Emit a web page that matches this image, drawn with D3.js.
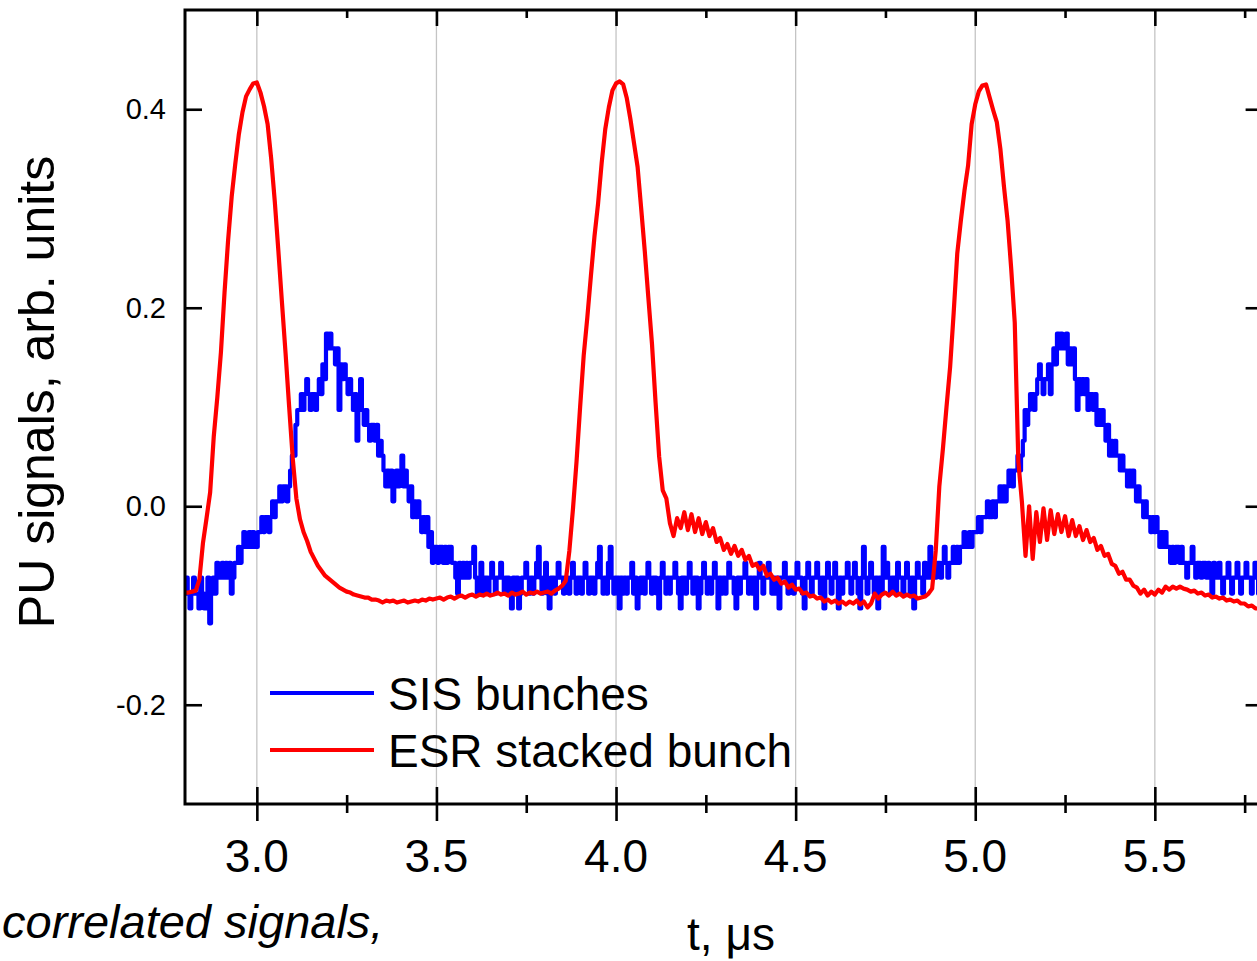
<!DOCTYPE html>
<meta charset="utf-8">
<style>
  body { margin: 0; background: #fff; }
  text { font-family: "Liberation Sans", Arial, Helvetica, sans-serif; fill: #000; }
  .tick-label { font-size: 46px; text-anchor: middle; }
  .ytick-label { font-size: 29px; text-anchor: end; }
  .title { font-size: 46px; }
  .legend { font-size: 46px; }
</style>
<svg width="1257" height="961"></svg>
<script src="https://cdn.jsdelivr.net/npm/d3@7"></script>
<script>

////////////////////
// DATA

// time grids (µs) of the two traces
const sisStart = 2.8, sisStep = 0.005;
const esrStart = 2.8, esrStep = 0.01;

// SIS bunches (blue), one row = 0.1 µs
const sisValues = [
  -0.088,-0.072,-0.088,-0.103,-0.088,-0.072,-0.088,-0.088,-0.103,-0.072,-0.088,-0.103,-0.088,-0.072,-0.118,-0.088,-0.072,-0.088,-0.057,-0.072,
  -0.072,-0.057,-0.072,-0.057,-0.072,-0.057,-0.088,-0.072,-0.057,-0.057,-0.041,-0.057,-0.041,-0.026,-0.041,-0.041,-0.026,-0.041,-0.026,-0.041,
  -0.041,-0.026,-0.026,-0.011,-0.026,-0.011,-0.011,-0.026,-0.011,0.005,-0.011,0.005,0.005,0.020,0.005,0.020,0.020,0.005,0.020,0.036,
  0.051,0.051,0.082,0.097,0.097,0.113,0.097,0.113,0.128,0.113,0.097,0.113,0.113,0.097,0.113,0.128,0.113,0.143,0.128,0.174,
  0.159,0.174,0.159,0.159,0.143,0.159,0.097,0.143,0.128,0.143,0.128,0.113,0.128,0.113,0.097,0.113,0.066,0.097,0.128,0.097,
  0.082,0.097,0.082,0.066,0.082,0.082,0.066,0.082,0.051,0.066,0.051,0.036,0.020,0.036,0.020,0.036,0.005,0.020,0.036,0.020,
  0.036,0.051,0.020,0.036,0.020,0.005,0.020,-0.011,0.005,-0.011,0.005,-0.011,-0.026,-0.011,-0.026,-0.011,-0.041,-0.026,-0.057,-0.041,
  -0.041,-0.057,-0.041,-0.041,-0.057,-0.041,-0.057,-0.041,-0.041,-0.057,-0.057,-0.072,-0.088,-0.057,-0.072,-0.057,-0.072,-0.057,-0.072,-0.057,
  -0.057,-0.041,-0.072,-0.088,-0.072,-0.057,-0.088,-0.072,-0.072,-0.088,-0.072,-0.057,-0.072,-0.088,-0.072,-0.072,-0.057,-0.072,-0.088,-0.072,
  -0.072,-0.088,-0.103,-0.072,-0.088,-0.072,-0.103,-0.088,-0.072,-0.072,-0.057,-0.072,-0.088,-0.072,-0.088,-0.072,-0.057,-0.041,-0.072,-0.088,
  -0.072,-0.057,-0.088,-0.103,-0.072,-0.072,-0.088,-0.072,-0.057,-0.072,-0.072,-0.088,-0.072,-0.072,-0.088,-0.072,-0.057,-0.072,-0.088,-0.072,
  -0.072,-0.088,-0.072,-0.057,-0.072,-0.088,-0.072,-0.072,-0.088,-0.072,-0.057,-0.041,-0.072,-0.088,-0.072,-0.088,-0.057,-0.041,-0.072,-0.088,
  -0.072,-0.072,-0.103,-0.072,-0.088,-0.072,-0.088,-0.072,-0.072,-0.057,-0.088,-0.072,-0.103,-0.088,-0.072,-0.072,-0.088,-0.072,-0.057,-0.072,
  -0.088,-0.072,-0.072,-0.088,-0.103,-0.072,-0.057,-0.072,-0.088,-0.072,-0.088,-0.072,-0.072,-0.057,-0.072,-0.088,-0.103,-0.072,-0.072,-0.088,
  -0.072,-0.057,-0.072,-0.088,-0.072,-0.072,-0.103,-0.088,-0.072,-0.057,-0.072,-0.088,-0.072,-0.088,-0.072,-0.057,-0.072,-0.103,-0.072,-0.088,
  -0.072,-0.088,-0.072,-0.057,-0.072,-0.072,-0.088,-0.103,-0.072,-0.088,-0.072,-0.072,-0.057,-0.072,-0.088,-0.072,-0.088,-0.072,-0.103,-0.072,
  -0.057,-0.072,-0.088,-0.072,-0.072,-0.057,-0.072,-0.088,-0.072,-0.088,-0.072,-0.103,-0.072,-0.072,-0.057,-0.072,-0.088,-0.072,-0.072,-0.088,
  -0.072,-0.057,-0.072,-0.072,-0.088,-0.103,-0.072,-0.057,-0.072,-0.088,-0.072,-0.072,-0.057,-0.072,-0.088,-0.072,-0.103,-0.072,-0.057,-0.072,
  -0.088,-0.072,-0.057,-0.072,-0.103,-0.072,-0.088,-0.072,-0.072,-0.057,-0.072,-0.088,-0.072,-0.057,-0.072,-0.088,-0.103,-0.072,-0.041,-0.072,
  -0.088,-0.072,-0.057,-0.072,-0.088,-0.072,-0.103,-0.072,-0.088,-0.041,-0.072,-0.057,-0.072,-0.088,-0.072,-0.072,-0.088,-0.057,-0.072,-0.072,
  -0.088,-0.072,-0.057,-0.072,-0.088,-0.072,-0.103,-0.072,-0.057,-0.072,-0.072,-0.088,-0.057,-0.072,-0.072,-0.041,-0.072,-0.057,-0.072,-0.057,
  -0.057,-0.072,-0.057,-0.041,-0.057,-0.072,-0.057,-0.057,-0.041,-0.057,-0.041,-0.057,-0.041,-0.041,-0.026,-0.041,-0.041,-0.026,-0.041,-0.026,
  -0.026,-0.026,-0.011,-0.026,-0.011,-0.011,-0.011,0.005,-0.011,-0.011,0.005,-0.011,0.005,0.005,0.020,0.005,0.020,0.005,0.020,0.036,
  0.036,0.020,0.036,0.036,0.051,0.036,0.051,0.066,0.097,0.082,0.097,0.113,0.113,0.097,0.113,0.128,0.143,0.128,0.113,0.128,
  0.128,0.143,0.113,0.143,0.159,0.143,0.174,0.159,0.174,0.159,0.159,0.174,0.143,0.159,0.143,0.159,0.128,0.097,0.128,0.113,
  0.128,0.113,0.128,0.097,0.113,0.113,0.097,0.113,0.082,0.097,0.082,0.097,0.082,0.066,0.082,0.051,0.066,0.051,0.066,0.051,
  0.051,0.036,0.051,0.036,0.036,0.020,0.036,0.020,0.036,0.020,0.005,0.020,0.005,0.005,-0.011,0.005,-0.011,-0.011,-0.026,-0.011,
  -0.026,-0.011,-0.026,-0.041,-0.026,-0.041,-0.026,-0.041,-0.041,-0.057,-0.041,-0.057,-0.041,-0.041,-0.057,-0.041,-0.057,-0.057,-0.072,-0.057,
  -0.057,-0.041,-0.057,-0.072,-0.057,-0.057,-0.072,-0.057,-0.057,-0.072,-0.057,-0.072,-0.088,-0.057,-0.072,-0.072,-0.057,-0.072,-0.088,-0.072,
  -0.072,-0.057,-0.072,-0.088,-0.072,-0.072,-0.057,-0.072,-0.088,-0.072,-0.072,-0.057,-0.072,-0.072,-0.088,-0.072,-0.057,-0.072,-0.088,-0.072
];

// ESR stacked bunch (red), one row = 0.1 µs
const esrValues = [
  -0.087,-0.087,-0.086,-0.085,-0.074,-0.037,-0.012,0.014,0.070,0.110,
  0.155,0.215,0.268,0.312,0.345,0.375,0.397,0.413,0.420,0.426,
  0.427,0.417,0.403,0.385,0.350,0.307,0.257,0.205,0.154,0.100,
  0.048,0.008,-0.013,-0.026,-0.035,-0.046,-0.053,-0.060,-0.065,-0.070,
  -0.073,-0.076,-0.079,-0.082,-0.084,-0.086,-0.087,-0.089,-0.090,-0.091,
  -0.092,-0.092,-0.094,-0.094,-0.095,-0.097,-0.095,-0.096,-0.095,-0.097,
  -0.096,-0.095,-0.097,-0.096,-0.095,-0.096,-0.094,-0.095,-0.093,-0.094,
  -0.093,-0.092,-0.094,-0.092,-0.091,-0.093,-0.091,-0.090,-0.092,-0.090,
  -0.089,-0.091,-0.089,-0.090,-0.088,-0.090,-0.089,-0.087,-0.089,-0.088,
  -0.090,-0.087,-0.089,-0.088,-0.086,-0.089,-0.087,-0.088,-0.086,-0.088,
  -0.087,-0.086,-0.088,-0.085,-0.083,-0.080,-0.075,-0.045,-0.003,0.045,
  0.100,0.152,0.190,0.232,0.272,0.305,0.346,0.380,0.402,0.419,
  0.426,0.428,0.425,0.411,0.390,0.366,0.342,0.300,0.257,0.210,
  0.164,0.105,0.050,0.016,0.008,-0.017,-0.030,-0.012,-0.022,-0.006,
  -0.024,-0.008,-0.026,-0.012,-0.028,-0.016,-0.030,-0.022,-0.036,-0.032,
  -0.044,-0.038,-0.048,-0.040,-0.050,-0.044,-0.054,-0.050,-0.060,-0.058,
  -0.064,-0.060,-0.070,-0.068,-0.074,-0.072,-0.078,-0.076,-0.082,-0.079,
  -0.084,-0.083,-0.088,-0.087,-0.091,-0.090,-0.093,-0.092,-0.096,-0.094,
  -0.097,-0.095,-0.098,-0.096,-0.099,-0.096,-0.098,-0.095,-0.099,-0.096,
  -0.102,-0.098,-0.088,-0.093,-0.089,-0.087,-0.090,-0.086,-0.090,-0.088,
  -0.091,-0.089,-0.091,-0.090,-0.093,-0.092,-0.091,-0.088,-0.083,-0.045,
  0.020,0.058,0.100,0.140,0.195,0.255,0.288,0.318,0.343,0.385,
  0.405,0.418,0.424,0.425,0.412,0.399,0.387,0.360,0.322,0.288,
  0.240,0.185,0.045,0.004,-0.050,0.000,-0.053,-0.006,-0.036,-0.002,
  -0.034,-0.004,-0.028,-0.008,-0.026,-0.010,-0.030,-0.014,-0.030,-0.020,
  -0.034,-0.024,-0.036,-0.032,-0.044,-0.040,-0.050,-0.048,-0.058,-0.060,
  -0.068,-0.066,-0.074,-0.074,-0.080,-0.082,-0.088,-0.084,-0.090,-0.086,
  -0.089,-0.084,-0.087,-0.081,-0.084,-0.081,-0.083,-0.081,-0.083,-0.084,
  -0.086,-0.085,-0.088,-0.087,-0.090,-0.089,-0.092,-0.091,-0.093,-0.092,
  -0.095,-0.094,-0.096,-0.095,-0.098,-0.098,-0.101,-0.100,-0.103,-0.103
];

const xMajor = [3.0, 3.5, 4.0, 4.5, 5.0, 5.5];
const xMinor = [3.25, 3.75, 4.25, 4.75, 5.25, 5.75];
const yMajor = [-0.2, 0.0, 0.2, 0.4];

const seriesNames = ["SIS bunches", "ESR stacked bunch"];
const seriesColors = ["#0000ff", "#ff0000"];

////////////////////
// SETUP

const svg = d3.select("svg");
svg.append("rect").attr("width", 1257).attr("height", 961).attr("fill", "#fff");

const plot = {left: 185, top: 10, right: 1262.6, bottom: 804};

const x = d3.scaleLinear().domain([2.8, 5.8]).range([plot.left, plot.right]);
const y = d3.scaleLinear().domain([-0.3, 0.5]).range([plot.bottom, plot.top]);

const sis = sisValues.map((v, i) => ({t: sisStart + i * sisStep, v: v}));
const esr = esrValues.map((v, i) => ({t: esrStart + i * esrStep, v: v}));

svg.append("clipPath").attr("id", "clip")
  .append("rect")
  .attr("x", plot.left).attr("y", plot.top)
  .attr("width", plot.right - plot.left).attr("height", plot.bottom - plot.top);

// vertical grid
svg.append("g")
  .selectAll("line")
  .data(xMajor)
  .join("line")
  .attr("x1", d => x(d)).attr("x2", d => x(d))
  .attr("y1", plot.top).attr("y2", plot.bottom)
  .attr("stroke", "#c4c4c4")
  .attr("stroke-width", 1.3);

// traces
const traces = svg.append("g").attr("clip-path", "url(#clip)");

traces.append("path")
  .datum(sis)
  .attr("fill", "none")
  .attr("stroke", seriesColors[0])
  .attr("stroke-width", 4.2)
  .attr("stroke-linejoin", "round")
  .attr("d", d3.line().x(d => x(d.t)).y(d => y(d.v)).curve(d3.curveStep));

traces.append("path")
  .datum(esr)
  .attr("fill", "none")
  .attr("stroke", seriesColors[1])
  .attr("stroke-width", 4.2)
  .attr("stroke-linejoin", "round")
  .attr("d", d3.line().x(d => x(d.t)).y(d => y(d.v)));

////////////////////
// AXES

function styleAxis(g) {
  g.select(".domain").remove();
  g.selectAll(".tick line").attr("stroke", "#000").attr("stroke-width", 2.6);
  g.selectAll(".tick text").remove();
}

// bottom: ticks cross the axis line
const bottom = svg.append("g")
  .attr("transform", `translate(0,${plot.bottom})`)
  .call(d3.axisBottom(x).tickValues(xMajor).tickSize(17))
  .call(styleAxis);
bottom.selectAll(".tick line").attr("y1", -17);

const bottomMinor = svg.append("g")
  .attr("transform", `translate(0,${plot.bottom})`)
  .call(d3.axisBottom(x).tickValues(xMinor).tickSize(9))
  .call(styleAxis);
bottomMinor.selectAll(".tick line").attr("y1", -9);

svg.append("g")
  .selectAll("text")
  .data(xMajor)
  .join("text")
  .attr("class", "tick-label")
  .attr("x", d => x(d))
  .attr("y", 872)
  .text(d => d.toFixed(1));

// top: inward ticks
svg.append("g")
  .attr("transform", `translate(0,${plot.top})`)
  .call(d3.axisTop(x).tickValues(xMajor).tickSize(-16))
  .call(styleAxis);
svg.append("g")
  .attr("transform", `translate(0,${plot.top})`)
  .call(d3.axisTop(x).tickValues(xMinor).tickSize(-8))
  .call(styleAxis);

// left and right: inward ticks
svg.append("g")
  .attr("transform", `translate(${plot.left},0)`)
  .call(d3.axisLeft(y).tickValues(yMajor).tickSize(-17))
  .call(styleAxis);
svg.append("g")
  .attr("transform", `translate(${plot.right},0)`)
  .call(d3.axisRight(y).tickValues(yMajor).tickSize(-17))
  .call(styleAxis);

svg.append("g")
  .selectAll("text")
  .data(yMajor)
  .join("text")
  .attr("class", "ytick-label")
  .attr("x", 166)
  .attr("y", d => y(d) + 10)
  .text(d => d.toFixed(1));

// frame
svg.append("rect")
  .attr("x", plot.left).attr("y", plot.top)
  .attr("width", plot.right - plot.left).attr("height", plot.bottom - plot.top)
  .attr("fill", "none")
  .attr("stroke", "#000")
  .attr("stroke-width", 3);

////////////////////
// TITLES + LEGEND

svg.append("text")
  .attr("class", "title")
  .attr("transform", "translate(54,392) rotate(-90)")
  .attr("text-anchor", "middle")
  .style("font-size", "50px")
  .text("PU signals, arb. units");

svg.append("text")
  .attr("class", "title")
  .attr("x", 731).attr("y", 950)
  .attr("text-anchor", "middle")
  .text("t, \u03bcs");

svg.append("text")
  .attr("class", "title")
  .attr("x", 2).attr("y", 938)
  .style("font-style", "italic")
  .style("font-size", "47px")
  .text("correlated signals,");

const legend = svg.append("g")
  .selectAll("g")
  .data(seriesNames)
  .join("g")
  .attr("transform", (d, i) => `translate(270,${693 + i * 57})`);

legend.append("line")
  .attr("x1", 0).attr("x2", 104)
  .attr("stroke", (d, i) => seriesColors[i])
  .attr("stroke-width", 4.2);

legend.append("text")
  .attr("class", "legend")
  .attr("x", 118)
  .attr("y", 17)
  .text(d => d);

</script>
